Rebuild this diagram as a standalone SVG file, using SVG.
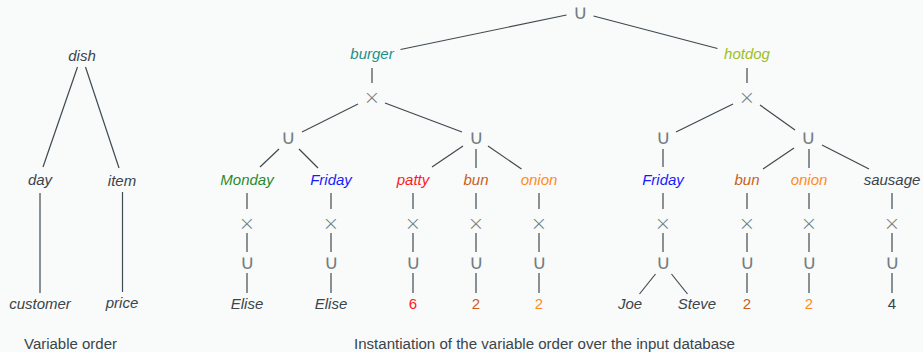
<svg xmlns="http://www.w3.org/2000/svg" width="923" height="352" viewBox="0 0 923 352">
  <style>
    .lbl { font-family: "Liberation Sans", Arial, sans-serif; font-size: 15px; font-style: italic; text-anchor: middle; fill: #3a4449; }
    .num { font-family: "Liberation Sans", Arial, sans-serif; font-size: 15px; text-anchor: middle; fill: #3a4449; }
    .cup { font-family: "DejaVu Sans", sans-serif; font-size: 20px; font-weight: 200; text-anchor: middle; fill: #737d82; }
    .times { font-family: "DejaVu Sans", sans-serif; font-size: 20px; font-weight: 200; text-anchor: middle; fill: #737d82; }
    .cap { font-family: "Liberation Sans", Arial, sans-serif; font-size: 14px; fill: #3a4449; }
    .edges line { stroke: #3d4a50; stroke-width: 1.2; }
    .teal { fill: #1b9089; }
    .lime { fill: #9cbf1e; }
    .green { fill: #2a8a2a; }
    .blue { fill: #1a1aff; }
    .red { fill: #ff1a1a; }
    .choc { fill: #c8601a; }
    .orange { fill: #ff8c1a; }
  </style>
  <rect width="923" height="352" fill="#f9fafa"/>

  <!-- connectors -->
  <g class="edges">
    <!-- variable order -->
    <line x1="77.5" y1="67" x2="43" y2="167"/>
    <line x1="85.5" y1="67" x2="119" y2="168"/>
    <line x1="40" y1="193" x2="40" y2="293"/>
    <line x1="122.5" y1="192" x2="122.5" y2="292"/>

    <!-- root union -->
    <line x1="566.5" y1="15" x2="400.5" y2="49.5"/>
    <line x1="593.5" y1="16" x2="717.5" y2="48.5"/>
    <line x1="372" y1="68" x2="372" y2="83"/>
    <line x1="747" y1="68" x2="747" y2="83"/>

    <!-- product nodes to unions -->
    <line x1="358" y1="104" x2="302" y2="132"/>
    <line x1="385" y1="103" x2="462" y2="132"/>
    <line x1="733" y1="104" x2="676" y2="132"/>
    <line x1="760" y1="105" x2="795" y2="130"/>

    <!-- unions to values -->
    <line x1="279" y1="149" x2="260" y2="167"/>
    <line x1="299" y1="149" x2="318" y2="168"/>
    <line x1="463" y1="146" x2="432" y2="167"/>
    <line x1="476" y1="149" x2="476" y2="168"/>
    <line x1="488" y1="146" x2="521.5" y2="169"/>
    <line x1="663" y1="149" x2="663" y2="167"/>
    <line x1="794" y1="148" x2="763" y2="169"/>
    <line x1="809" y1="149" x2="809" y2="168"/>
    <line x1="822" y1="145" x2="869" y2="169"/>

    <!-- value chains -->
    <line x1="247" y1="193" x2="247" y2="209"/><line x1="247" y1="233" x2="247" y2="252"/><line x1="247" y1="273" x2="247" y2="293"/>
    <line x1="331" y1="193" x2="331" y2="209"/><line x1="331" y1="233" x2="331" y2="252"/><line x1="331" y1="273" x2="331" y2="293"/>
    <line x1="413" y1="193" x2="413" y2="209"/><line x1="413" y1="233" x2="413" y2="252"/><line x1="413" y1="273" x2="413" y2="293"/>
    <line x1="476" y1="193" x2="476" y2="209"/><line x1="476" y1="233" x2="476" y2="252"/><line x1="476" y1="273" x2="476" y2="293"/>
    <line x1="539" y1="193" x2="539" y2="209"/><line x1="539" y1="233" x2="539" y2="252"/><line x1="539" y1="273" x2="539" y2="293"/>
    <line x1="663" y1="193" x2="663" y2="209"/><line x1="663" y1="233" x2="663" y2="252"/>
    <line x1="655.5" y1="274" x2="639.5" y2="294"/><line x1="671.5" y1="274" x2="687.5" y2="294"/>
    <line x1="747" y1="193" x2="747" y2="209"/><line x1="747" y1="233" x2="747" y2="252"/><line x1="747" y1="273" x2="747" y2="293"/>
    <line x1="809" y1="193" x2="809" y2="209"/><line x1="809" y1="233" x2="809" y2="252"/><line x1="809" y1="273" x2="809" y2="293"/>
    <line x1="892" y1="193" x2="892" y2="209"/><line x1="892" y1="233" x2="892" y2="252"/><line x1="892" y1="273" x2="892" y2="293"/>
  </g>

  <!-- variable order nodes -->
  <g id="v-dish"><text class="lbl" x="82" y="61">dish</text></g>
  <g id="v-day"><text class="lbl" x="40" y="185">day</text></g>
  <g id="v-item"><text class="lbl" x="122" y="186">item</text></g>
  <g id="v-customer"><text class="lbl" x="40" y="309">customer</text></g>
  <g id="v-price"><text class="lbl" x="122" y="308">price</text></g>

  <!-- factorized representation -->
  <g id="u-root"><text class="cup" x="580" y="18.5">∪</text></g>
  <g id="burger"><text class="lbl teal" x="372" y="59">burger</text></g>
  <g id="hotdog"><text class="lbl lime" x="747" y="59">hotdog</text></g>
  <g id="x-burger"><text class="times" x="372" y="103.5">×</text></g>
  <g id="x-hotdog"><text class="times" x="747" y="103.5">×</text></g>

  <g id="u-burger-day"><text class="cup" x="288" y="143.5">∪</text></g>
  <g id="u-burger-item"><text class="cup" x="476" y="143.5">∪</text></g>
  <g id="u-hotdog-day"><text class="cup" x="663" y="143.5">∪</text></g>
  <g id="u-hotdog-item"><text class="cup" x="808" y="143.5">∪</text></g>

  <g id="b-monday"><text class="lbl green" x="247" y="185">Monday</text><text class="times" x="247" y="229.5">×</text><text class="cup" x="247" y="268.5">∪</text><text class="lbl" x="247" y="309">Elise</text></g>
  <g id="b-friday"><text class="lbl blue" x="331" y="185">Friday</text><text class="times" x="331" y="229.5">×</text><text class="cup" x="331" y="268.5">∪</text><text class="lbl" x="331" y="309">Elise</text></g>
  <g id="b-patty"><text class="lbl red" x="413" y="185">patty</text><text class="times" x="413" y="229.5">×</text><text class="cup" x="413" y="268.5">∪</text><text class="num red" x="413" y="309">6</text></g>
  <g id="b-bun"><text class="lbl choc" x="476" y="185">bun</text><text class="times" x="476" y="229.5">×</text><text class="cup" x="476" y="268.5">∪</text><text class="num choc" x="476" y="309">2</text></g>
  <g id="b-onion"><text class="lbl orange" x="539" y="185">onion</text><text class="times" x="539" y="229.5">×</text><text class="cup" x="539" y="268.5">∪</text><text class="num orange" x="539" y="309">2</text></g>

  <g id="h-friday"><text class="lbl blue" x="663" y="185">Friday</text><text class="times" x="663" y="229.5">×</text><text class="cup" x="663" y="268.5">∪</text></g>
  <g id="h-joe"><text class="lbl" x="630" y="309">Joe</text></g>
  <g id="h-steve"><text class="lbl" x="697" y="309">Steve</text></g>
  <g id="h-bun"><text class="lbl choc" x="747" y="185">bun</text><text class="times" x="747" y="229.5">×</text><text class="cup" x="747" y="268.5">∪</text><text class="num choc" x="747" y="309">2</text></g>
  <g id="h-onion"><text class="lbl orange" x="809" y="185">onion</text><text class="times" x="809" y="229.5">×</text><text class="cup" x="809" y="268.5">∪</text><text class="num orange" x="809" y="309">2</text></g>
  <g id="h-sausage"><text class="lbl" x="892" y="185">sausage</text><text class="times" x="892" y="229.5">×</text><text class="cup" x="892" y="268.5">∪</text><text class="num" x="892" y="309">4</text></g>

  <!-- captions -->
  <text class="cap" x="24" y="349" textLength="93" lengthAdjust="spacingAndGlyphs">Variable order</text>
  <text class="cap" x="354" y="349" textLength="381" lengthAdjust="spacingAndGlyphs">Instantiation of the variable order over the input database</text>
</svg>
